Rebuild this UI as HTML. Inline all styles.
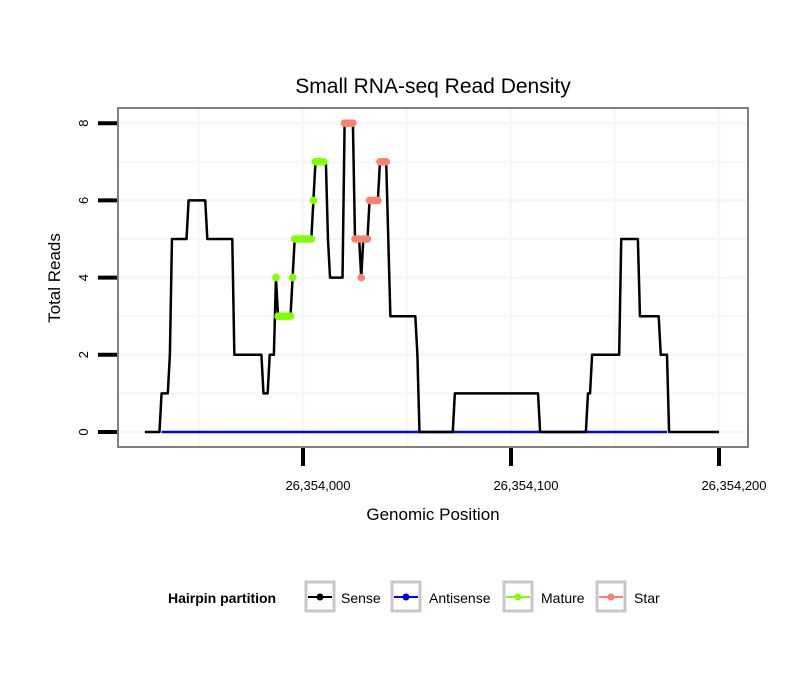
<!DOCTYPE html>
<html><head><meta charset="utf-8"><style>
body{margin:0;background:#fff;}
svg{display:block;font-family:"Liberation Sans",sans-serif;}
</style></head><body>
<svg width="810" height="690" viewBox="0 0 810 690">
<rect width="810" height="690" fill="#fff"/>
<text x="433" y="93" text-anchor="middle" font-size="21" fill="#000">Small RNA-seq Read Density</text>
<g id="grid"></g>
<g id="plot"></g>
<rect x="118" y="108" width="630" height="339" fill="none" stroke="#808080" stroke-width="2"/>
<g id="axes"></g>
<text x="433" y="520" text-anchor="middle" font-size="17">Genomic Position</text>
<text transform="translate(60,278) rotate(-90)" text-anchor="middle" font-size="17">Total Reads</text>
<g>
<text x="168" y="603" font-size="14" font-weight="bold">Hairpin partition</text>
<g>
<rect x="306" y="582" width="28" height="29" fill="#fff" stroke="#c8c8c8" stroke-width="3"/>
<line x1="308" y1="597" x2="332" y2="597" stroke="#000" stroke-width="2"/><circle cx="320" cy="597" r="3.5" fill="#000"/>
<text x="341" y="603" font-size="14">Sense</text></g>
<g>
<rect x="392" y="582" width="28" height="29" fill="#fff" stroke="#c8c8c8" stroke-width="3"/>
<line x1="394" y1="597" x2="418" y2="597" stroke="#0000ff" stroke-width="2"/><circle cx="406" cy="597" r="3.5" fill="#0000ff"/>
<text x="429" y="603" font-size="14">Antisense</text></g>
<g>
<rect x="504" y="582" width="28" height="29" fill="#fff" stroke="#c8c8c8" stroke-width="3"/>
<line x1="506" y1="597" x2="530" y2="597" stroke="#7fff00" stroke-width="2"/><circle cx="518" cy="597" r="3.5" fill="#7fff00"/>
<text x="541" y="603" font-size="14">Mature</text></g>
<g>
<rect x="597" y="582" width="28" height="29" fill="#fff" stroke="#c8c8c8" stroke-width="3"/>
<line x1="599" y1="597" x2="623" y2="597" stroke="#fa8072" stroke-width="2"/><circle cx="611" cy="597" r="3.5" fill="#fa8072"/>
<text x="634" y="603" font-size="14">Star</text></g>
</g>
</svg>
<script>
// Sense runs: start offset (relative to 26,354,000) and read count
const runStarts = [-76,-68,-64,-63,-55,-46,-33,-19,-16,-13,-12,-5,-4,5,6,12,13,20,25,28,29,32,37,41,42,55,56,73,114,137,139,153,162,172,176];
const runValues = [0,1,2,5,6,5,2,1,2,4,3,4,5,6,7,5,4,8,5,4,5,6,7,5,3,2,0,1,0,1,2,5,3,2,0];
const runEnd = 200;
const antisenseStart = -68, antisenseEnd = 175;
const matureRange = [-13, 10];
const starRange = [20, 40];
const xTicks = [0, 100, 200];
const xTickLabels = ["26,354,000","26,354,100","26,354,200"];
const yTicks = [0,2,4,6,8];

const NS='http://www.w3.org/2000/svg';
const X = o => 303 + o*2.08;
const Y = v => 432 - v*38.6;
function mk(tag, attrs, parent){const e=document.createElementNS(NS,tag);for(const k in attrs)e.setAttribute(k,attrs[k]);parent.appendChild(e);return e;}

const pos=[], val=[];
for(let i=0;i<runStarts.length;i++){
  const end = i+1<runStarts.length ? runStarts[i+1] : runEnd+1;
  for(let p=runStarts[i]; p<end; p++){pos.push(p); val.push(runValues[i]);}
}
const grid=document.getElementById('grid'), plot=document.getElementById('plot'), axes=document.getElementById('axes');
for(let o=-50;o<=250;o+=50){const x=X(o); if(x<118||x>748) continue;
  const l=mk('line',{x1:x,x2:x,y1:109,y2:446,stroke:'#f7f7f7','stroke-width':o%100===0?3:2},grid);
  
  }
for(let v=0;v<=9;v++){const y=Y(v); if(y<108||y>447) continue;
  const l=mk('line',{x1:119,x2:747,y1:y,y2:y,stroke:'#f7f7f7','stroke-width':v%2===0?3:2},grid);
  
  }
const a=mk('line',{x1:X(antisenseStart),x2:X(antisenseEnd),y1:Y(0),y2:Y(0),stroke:'#0000ff','stroke-width':2.5},plot);


const sp=mk('polyline',{points:pos.map((p,i)=>X(p)+','+Y(val[i])).join(' '),fill:'none',stroke:'#000','stroke-width':2.5,'stroke-linejoin':'round'},plot);


function pts(range,color,name){
  pos.forEach((p,i)=>{ if(p>=range[0]&&p<=range[1]){
    const c=mk('circle',{cx:X(p),cy:Y(val[i]),r:3.8,fill:color},plot);
    
    
  }});
}
pts(matureRange,'#7fff00','mature-point');
pts(starRange,'#fa8072','star-point');
yTicks.forEach(v=>{
  const t=mk('line',{x1:98,x2:117,y1:Y(v),y2:Y(v),stroke:'#000','stroke-width':4},axes);
  
  
  const tx=mk('text',{transform:`translate(88,${Y(v)}) rotate(-90)`,'text-anchor':'middle','font-size':13},axes);
  tx.textContent=v;
  
  
});
xTicks.forEach((o,i)=>{
  const t=mk('line',{x1:X(o),x2:X(o),y1:448,y2:466,stroke:'#000','stroke-width':4},axes);
  
  
  const tx=mk('text',{x:X(o)+15,y:490,'text-anchor':'middle','font-size':13},axes);
  tx.textContent=xTickLabels[i];
  
  
});
</script>
</body></html>
